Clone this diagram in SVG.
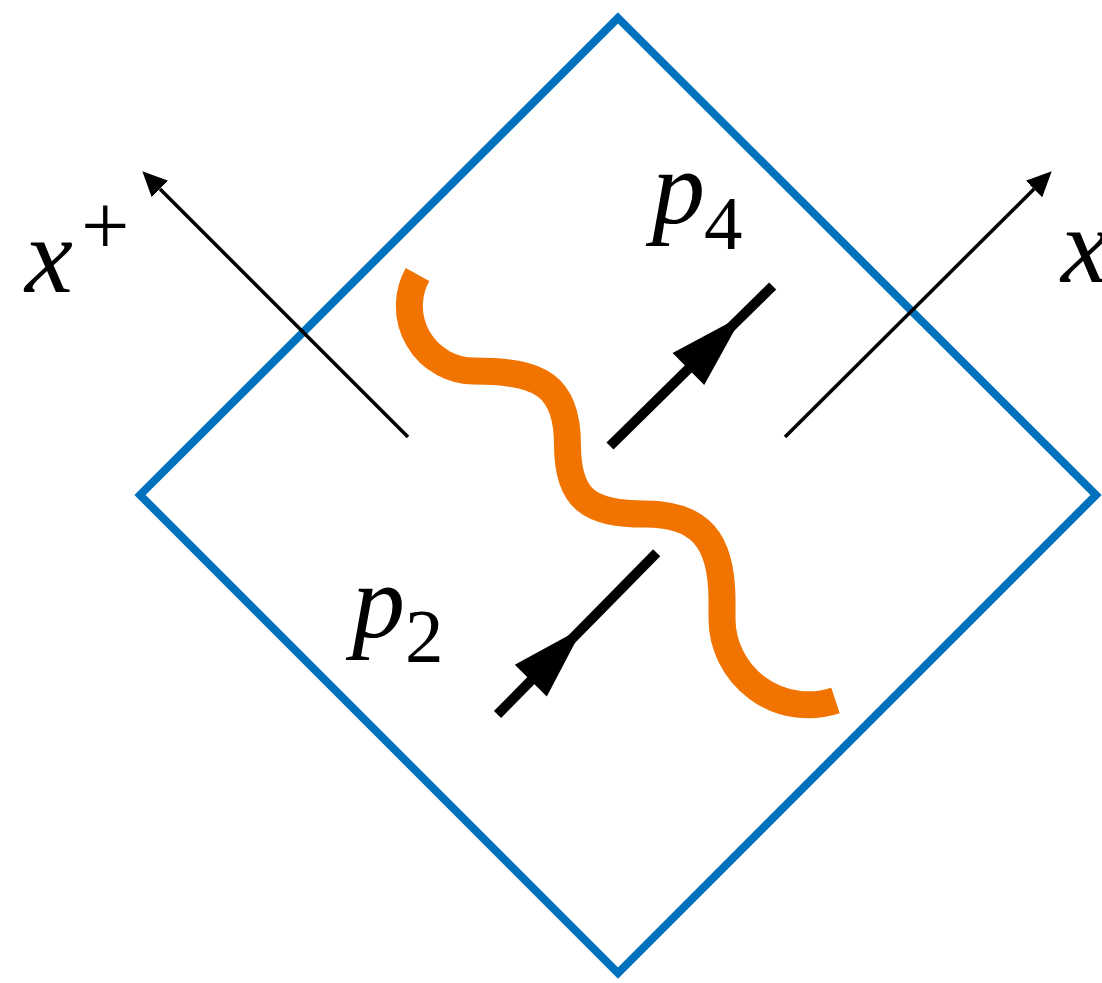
<svg xmlns="http://www.w3.org/2000/svg" width="1102" height="983" viewBox="0 0 1102 983">
<style>
.frame{fill:none;stroke:#0072BD;stroke-width:8;stroke-linejoin:miter}
.axis{fill:none;stroke:#000;stroke-width:3.5}
.mom{fill:none;stroke:#000;stroke-width:10}
.head{fill:#000;stroke:none}
.wave{fill:none;stroke:#F17300;stroke-width:27}
</style>
<defs>
<marker id="ah" markerUnits="userSpaceOnUse" viewBox="0 -13 26 26" refX="0" refY="0" markerWidth="26" markerHeight="26" orient="auto">
<path d="M0,-11.7 L25,0 L0,11.7 Z" fill="#000"/>
</marker>
</defs>
<g id="region">
<polygon class="frame" points="618,18 1096,495 618,973 140,495"/>
</g>
<g id="connectors">
<line id="axis-xplus" class="axis" x1="408" y1="437" x2="160" y2="189" marker-end="url(#ah)"/>
<line id="axis-xminus" class="axis" x1="785" y1="437" x2="1034" y2="189" marker-end="url(#ah)"/>
<g id="mom-p4">
<line class="mom" x1="610" y1="446" x2="772.7" y2="286"/>
<polygon class="head" points="672.6,352.9 742.6,315.6 704.2,384.9"/>
</g>
<g id="mom-p2">
<line class="mom" x1="497.5" y1="714.5" x2="656.7" y2="552.7"/>
<polygon class="head" points="514.8,664.8 583,627.5 546.8,696.4"/>
</g>
</g>
<g id="string">
<path class="wave" d="M417.5,274.5 A65,65 0 0 0 473.5,371 C540,371 567.5,385 567.5,445 C567.5,500 590,514 645,514 C700,514 722,540 722,600 L722,618.5 A86.5,86.5 0 0 0 835.5,700.5"/>
</g>
<g id="labels" fill="#000">
<text x="25" y="292" font-size="108" font-family="Liberation Serif" font-style="italic">x</text>
<text x="81" y="255" font-size="86" font-family="Liberation Serif">+</text>
<text x="652" y="223" font-size="106" font-family="Liberation Serif" font-style="italic">p</text>
<text x="704" y="249" font-size="77" font-family="Liberation Serif">4</text>
<text x="352" y="637" font-size="106" font-family="Liberation Serif" font-style="italic">p</text>
<text x="405" y="662" font-size="77" font-family="Liberation Serif">2</text>
<text x="1061" y="282" font-size="108" font-family="Liberation Serif" font-style="italic">x</text>
</g>
</svg>
